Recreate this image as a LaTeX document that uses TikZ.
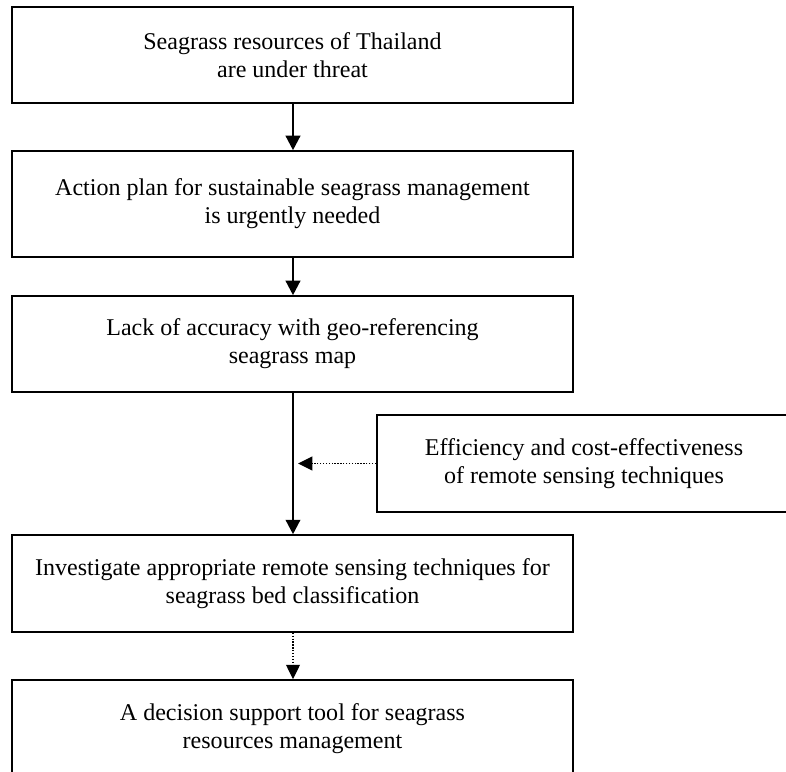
\documentclass[tikz,border=0pt]{standalone}
\usepackage{fontspec}
\setmainfont{Liberation Serif}
\usetikzlibrary{arrows.meta}
\begin{document}
\begin{tikzpicture}[x=0.52pt,y=-0.52pt,
  box/.style={draw, line width=0.9pt, minimum width=291.7pt, inner sep=0pt, align=center, font=\fontsize{12.5}{14.6}\selectfont},
  arr/.style={-{Triangle[length=7.5pt,width=7.6pt]}, line width=1pt},
  dotarr/.style={-{Triangle[length=7.5pt,width=7.2pt]}, line width=0.7pt, dash pattern=on 0.7pt off 0.8pt}]
\clip (0,0) rectangle (786,771);
\fill[white] (0,0) rectangle (786,771);
\coordinate (ax) at (293,0);
\node[box, minimum height=49.9pt] (b1) at (292.5,55) {Seagrass resources of Thailand\\are under threat};
\node[box, minimum height=55.1pt] (b2) at (292.5,204) {Action plan for sustainable seagrass management\\is urgently needed};
\node[box, minimum height=49.9pt] (b3) at (292.5,344) {Lack of accuracy with geo-referencing\\seagrass map};
\node[box, minimum width=215.3pt, minimum height=50.4pt] (sbox) at (584,463.5) {Efficiency and cost-effectiveness\\of remote sensing techniques};
\node[box, minimum height=50.4pt] (b5) at (292.5,583.5) {Investigate appropriate remote sensing techniques for\\seagrass bed classification};
\node[box, minimum height=50.4pt] (b6) at (292.5,728.5) {A decision support tool for seagrass\\resources management};
\coordinate (tip) at (298,463.5);
\draw[arr] (b1.south -| ax) -- (b2.north -| ax);
\draw[arr] (b2.south -| ax) -- (b3.north -| ax);
\draw[arr] (b3.south -| ax) -- (b5.north -| ax);
\draw[dotarr] (sbox.west) -- (tip);
\draw[dotarr] (b5.south -| ax) -- (b6.north -| ax);
\end{tikzpicture}
\end{document}
